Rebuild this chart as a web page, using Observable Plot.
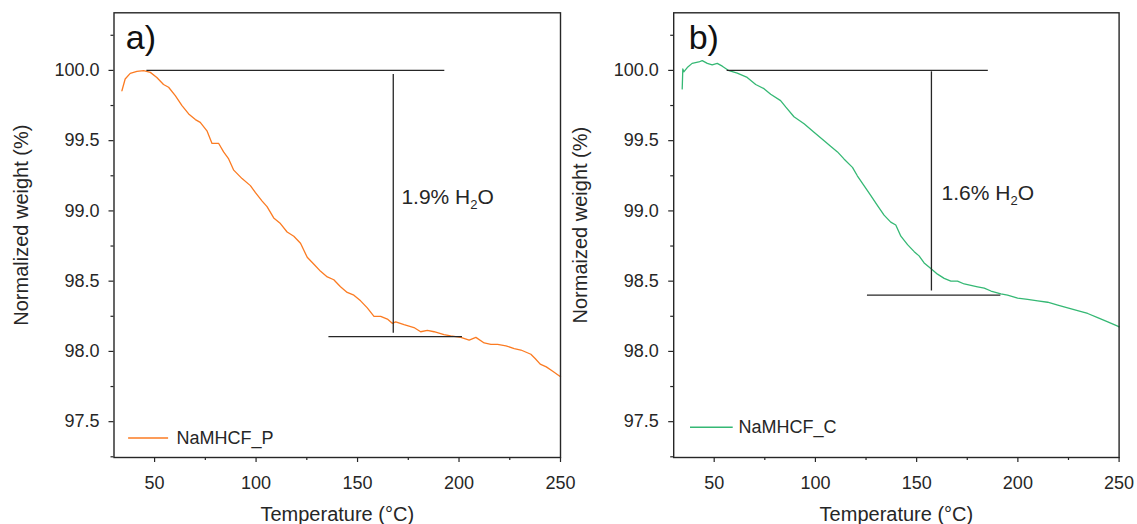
<!DOCTYPE html>
<html>
<head>
<meta charset="utf-8">
<script src="https://cdn.jsdelivr.net/npm/d3@7"></script>
<script src="https://cdn.jsdelivr.net/npm/@observablehq/plot@0.6"></script>
<style>
  body { margin: 0; background: #fff; }
  #wrap { position: relative; width: 1137px; height: 524px; overflow: hidden; background: #fff; }
  #wrap svg { position: absolute; top: 0; overflow: visible; background: transparent; }
</style>
</head>
<body>
<div id="wrap"></div>
<script>
// ---------------- data ----------------
const tempA = [33.9, 35.5, 38.0, 41.3, 44.6, 47.9, 51.1, 54.4, 56.9, 60.2, 63.5, 66.8, 70.1, 72.5, 75.8, 78.3, 81.6, 84.0, 86.5, 89.0,
  93.1, 97.2, 99.7, 103.0, 105.4, 108.7, 112.0, 115.3, 118.6, 121.9, 125.2, 128.5, 131.8, 135.1, 138.3, 141.6, 144.9, 148.2, 151.5, 154.8,
  158.1, 161.4, 164.7, 167.1, 168.8, 172.9, 177.8, 181.1, 184.4, 187.7, 192.6, 195.9, 200.9, 205.0, 208.3, 212.4, 215.7, 219.0, 223.1, 227.2,
  230.5, 235.4, 237.5, 240.0, 243.0, 246.0, 250.0];
const weightA = [99.855, 99.939, 99.979, 99.993, 99.998, 99.986, 99.95, 99.90, 99.88, 99.82, 99.75, 99.69, 99.65, 99.63, 99.57, 99.48, 99.48, 99.42, 99.37, 99.29,
  99.23, 99.18, 99.13, 99.07, 99.03, 98.95, 98.91, 98.85, 98.82, 98.77, 98.67, 98.62, 98.57, 98.53, 98.51, 98.46, 98.42, 98.40, 98.36, 98.31,
  98.25, 98.25, 98.23, 98.20, 98.21, 98.19, 98.17, 98.14, 98.15, 98.14, 98.12, 98.11, 98.10, 98.08, 98.10, 98.06, 98.05, 98.05, 98.04, 98.02,
  98.01, 97.98, 97.95, 97.91, 97.89, 97.86, 97.82];

const tempB = [34.2, 34.5, 35.0, 36.7, 39.1, 42.4, 44.1, 46.6, 49.0, 51.5, 54.0, 57.3, 61.4, 66.3, 70.5, 74.6, 77.9, 82.8, 85.3, 89.4,
  94.4, 99.3, 104.3, 107.5, 110.9, 114.1, 118.3, 120.7, 124.0, 127.3, 130.6, 133.9, 137.2, 139.7, 142.2, 145.5, 148.8, 151.2, 153.7, 157.0,
  160.3, 163.6, 166.9, 170.2, 173.5, 176.8, 180.1, 183.4, 186.7, 191.6, 194.9, 199.9, 204.8, 209.8, 214.7, 219.7, 224.6, 229.5, 234.5, 239.4,
  244.4, 249.3, 250.0];
const weightB = [99.868, 100.01, 99.99, 100.02, 100.05, 100.06, 100.07, 100.05, 100.04, 100.05, 100.03, 99.998, 99.98, 99.95, 99.90, 99.87, 99.83, 99.785, 99.74, 99.67,
  99.62, 99.56, 99.50, 99.46, 99.42, 99.37, 99.31, 99.25, 99.18, 99.11, 99.04, 98.97, 98.92, 98.90, 98.82, 98.76, 98.71, 98.68, 98.63, 98.59,
  98.55, 98.52, 98.50, 98.50, 98.48, 98.47, 98.46, 98.45, 98.43, 98.41, 98.40, 98.38, 98.37, 98.36, 98.35, 98.33, 98.31, 98.29, 98.27, 98.24,
  98.21, 98.18, 98.175];

const seriesNames = ["NaMHCF_P", "NaMHCF_C"];
const panelLetters = ["a)", "b)"];
const yTitles = ["Normalized weight (%)", "Normaized weight (%)"];
const xTitle = "Temperature (\u00B0C)";
const waterLabels = ["1.9% H2O", "1.6% H2O"];

const xTicks = [50, 100, 150, 200, 250];
const xMinorTicks = [75, 125, 175, 225];
const yTicks = [97.5, 98.0, 98.5, 99.0, 99.5, 100.0];
const yMinorTicks = [97.25, 97.75, 98.25, 98.75, 99.25, 99.75, 100.25];

// step annotation (water loss) in data units
const stepTopY = [100.0, 100.0];
const stepTopX1 = [46.2, 56.4];
const stepTopX2 = [193.0, 185.4];
const stepBottomY = [98.105, 98.40];
const stepBottomX1 = [135.9, 125.7];
const stepBottomX2 = [201.7, 191.6];
const stepVertX = [167.6, 157.3];
const stepVertY1 = [99.97, 99.99];
const stepVertY2 = [98.13, 98.43];
const waterLabelX = [171.6, 162.3];
const waterLabelY = [99.05, 99.08];

// legend placement in data units
const legendLineX1 = [37.2, 38.3];
const legendLineX2 = [56.9, 59.4];
const legendLineY = [97.383, 97.46];
const legendTextX = [60.8, 62.0];
const legendTextY = [97.34, 97.42];

// ---------------- styling / layout ----------------
const colors = ["#fb7b22", "#35b874"];
const ink = "#262626";
const font = "'Liberation Sans', Arial, Helvetica, sans-serif";
const layouts = [
  {left: 0, width: 568, ml: 113.5, mr: 8, tp: 9.5, ydx: -86, letterDx: 11.8},
  {left: 568, width: 569, ml: 105.2, mr: 18.4, tp: 10, ydx: -86.5, letterDx: 15}
];

const temps = [tempA, tempB];
const weights = [weightA, weightB];
const wrap = document.getElementById("wrap");

layouts.forEach((L, i) => {
  const data = temps[i].map((t, j) => ({t, w: weights[i][j]}));
  const svg = Plot.plot({
    width: L.width,
    height: 524,
    marginLeft: L.ml,
    marginRight: L.mr,
    marginTop: 12.3,
    marginBottom: 67,
    x: {domain: [30, 250]},
    y: {domain: [97.245, 100.41]},
    style: {fontFamily: font, background: "transparent", overflow: "visible", color: ink},
    marks: [
      Plot.axisX(xTicks, {tickSize: 5, tickPadding: 14, fontSize: 18, label: null, strokeWidth: 1.2, tickFormat: d => String(d)}),
      Plot.axisX(xMinorTicks, {tickSize: 3, fill: "none", label: null, strokeWidth: 1.2}),
      Plot.axisY(yTicks, {tickSize: 5, tickPadding: L.tp, fontSize: 18, label: null, strokeWidth: 1.2, tickFormat: d => d.toFixed(1)}),
      Plot.axisY(yMinorTicks, {tickSize: 3, fill: "none", label: null, strokeWidth: 1.2}),
      Plot.line(data, {x: "t", y: "w", stroke: colors[i], strokeWidth: 1.3}),
      Plot.ruleY([{y: stepTopY[i], x1: stepTopX1[i], x2: stepTopX2[i]}], {y: "y", x1: "x1", x2: "x2", stroke: ink, strokeWidth: 1.3}),
      Plot.ruleY([{y: stepBottomY[i], x1: stepBottomX1[i], x2: stepBottomX2[i]}], {y: "y", x1: "x1", x2: "x2", stroke: ink, strokeWidth: 1.3}),
      Plot.ruleX([{x: stepVertX[i], y1: stepVertY1[i], y2: stepVertY2[i]}], {x: "x", y1: "y1", y2: "y2", stroke: ink, strokeWidth: 1.3}),
      Plot.text([{x: waterLabelX[i], y: waterLabelY[i], s: waterLabels[i]}], {x: "x", y: "y", text: "s", textAnchor: "start", lineAnchor: "bottom", fontSize: 21, fill: ink, className: "water"}),
      Plot.ruleY([{y: legendLineY[i], x1: legendLineX1[i], x2: legendLineX2[i]}], {y: "y", x1: "x1", x2: "x2", stroke: colors[i], strokeWidth: 1.5}),
      Plot.text([{x: legendTextX[i], y: legendTextY[i], s: seriesNames[i]}], {x: "x", y: "y", text: "s", textAnchor: "start", lineAnchor: "bottom", fontSize: 18, fill: ink}),
      Plot.text([panelLetters[i]], {frameAnchor: "top-left", dx: L.letterDx, dy: 35.7, textAnchor: "start", lineAnchor: "bottom", fontSize: 34, fill: "#111"}),
      Plot.text([yTitles[i]], {frameAnchor: "left", dx: L.ydx, dy: -10, rotate: -90, textAnchor: "middle", lineAnchor: "bottom", fontSize: 20, fill: ink}),
      Plot.text([xTitle], {frameAnchor: "bottom", dy: 63.7, textAnchor: "middle", lineAnchor: "bottom", fontSize: 20, fill: ink}),
      Plot.frame({stroke: ink, strokeWidth: 1.4})
    ]
  });
  svg.style.left = L.left + "px";
  // subscript for H2O
  d3.select(svg).selectAll("text").each(function () {
    const s = this.textContent;
    if (waterLabels.includes(s)) {
      const k = s.indexOf("H2O");
      const el = d3.select(this);
      el.text(null);
      el.append("tspan").text(s.slice(0, k + 1));
      el.append("tspan").attr("font-size", 13).attr("dy", 5).text("2");
      el.append("tspan").attr("dy", -5).text("O");
    }
  });
  wrap.appendChild(svg);
});
</script>
</body>
</html>
